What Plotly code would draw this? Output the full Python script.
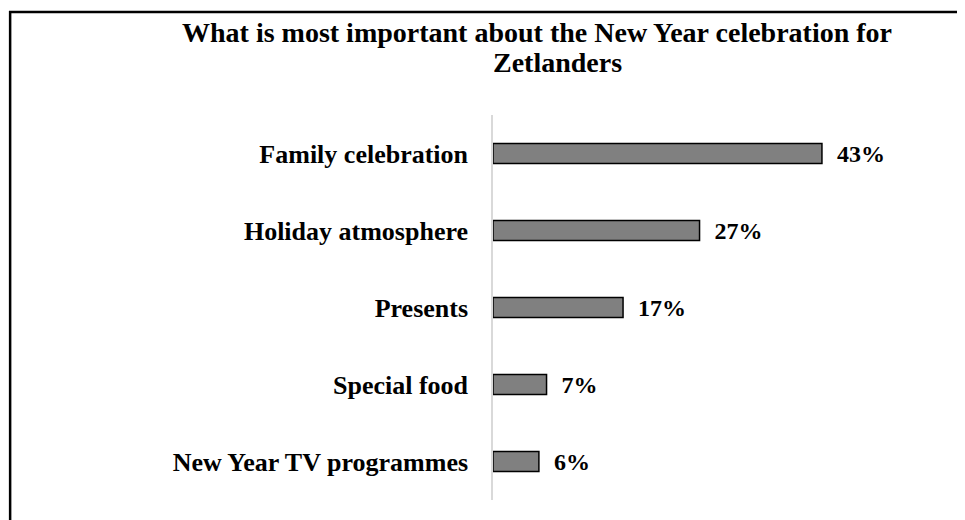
import plotly.graph_objects as go

categories = [
    "Family celebration",
    "Holiday atmosphere",
    "Presents",
    "Special food",
    "New Year TV programmes",
]
shares = [43, 27, 17, 7, 6]

title_lines = [
    "What is most important about the New Year celebration for",
    "Zetlanders",
]

FONT = "Liberation Serif, Times New Roman, serif"

# the page body keeps an 8px margin, so the figure is drawn 8px smaller
W, H = 957, 512
ML, MR, MT, MB = 485, 13, 107, 20

fig = go.Figure(go.Bar(
    x=shares,
    y=categories,
    orientation="h",
    marker={"color": "#808080", "line": {"color": "#000000", "width": 1.5}},
    text=[f"\u00a0\u00a0{v}%" for v in shares],
    textposition="outside",
    constraintext="none",
    textfont={"family": FONT, "size": 24, "color": "#000000", "weight": "bold"},
    cliponaxis=False,
    hoverinfo="skip",
))

# title lines, positioned in figure pixels then converted to paper units
plot_w = W - ML - MR
plot_h = H - MT - MB
title_font = {"family": FONT, "size": 28, "color": "#000000", "weight": "bold"}
title_pos = [(529, 25), (549, 55)]
annotations = []
for line, (px_x, px_y) in zip(title_lines, title_pos):
    annotations.append(dict(
        text=line,
        xref="paper", yref="paper",
        x=(px_x - ML) / plot_w,
        y=(H - MB - px_y) / plot_h,
        xanchor="center", yanchor="middle",
        showarrow=False, font=title_font,
    ))

fig.update_layout(
    width=W,
    height=H,
    paper_bgcolor="white",
    plot_bgcolor="white",
    margin={"l": ML, "r": MR, "t": MT, "b": MB},
    bargap=0.74,
    showlegend=False,
    annotations=annotations,
    xaxis={
        "range": [0, 60],
        "visible": False,
        "showgrid": False,
        "zeroline": False,
    },
    yaxis={
        "categoryorder": "array",
        "categoryarray": categories[::-1],
        "showgrid": False,
        "zeroline": False,
        "showline": True,
        "linecolor": "#d9d9d9",
        "linewidth": 1.5,
        "ticks": "",
        "ticklabelstandoff": 18,
        "tickfont": {"family": FONT, "size": 26, "color": "#000000", "weight": "bold"},
    },
    shapes=[{
        "type": "rect",
        "xref": "paper",
        "yref": "paper",
        "x0": -1.052,
        "x1": 1.2,
        "y0": -0.3,
        "y1": 1.2675,
        "line": {"color": "#000000", "width": 2.5},
        "fillcolor": "rgba(0,0,0,0)",
        "layer": "below",
    }],
)

fig.write_html("out.html")
